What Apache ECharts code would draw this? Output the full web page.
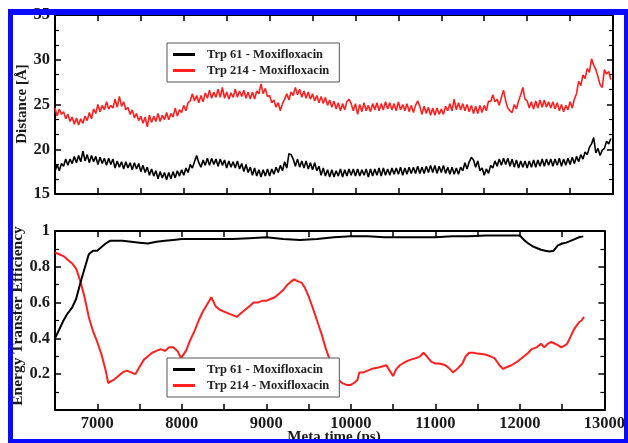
<!DOCTYPE html>
<html>
<head>
<meta charset="utf-8">
<script src="https://cdn.jsdelivr.net/npm/echarts@6/dist/echarts.min.js"></script>
<style>
html,body{margin:0;padding:0;background:#fff;}
#chart{width:628px;height:443px;}
</style>
</head>
<body>
<div id="chart"></div>
<script>
// ---- Data ----
const seriesNames = ['Trp 61 - Moxifloxacin', 'Trp 214 - Moxifloxacin'];
const xTickLabels = [7000, 8000, 9000, 10000, 11000, 12000, 13000];
const distTopYLabels = [15, 20, 25, 30, 35];
const effYLabels = [0.2, 0.4, 0.6, 0.8, 1];

// Distance traces: sampled every 25 ps starting at 6500 ps
const distStart = 6500;
const distStep = 25;
const dist61 = [
17.5,18.3,17.6,18.4, 18.1,18.9,18.2,18.9, 18.4,19.2,18.5,19.3, 18.6,19.8,18.7,19.4,
18.5,19.3,18.6,19.2, 18.3,19.1,18.4,19.0, 18.2,19.0,18.3,18.9, 17.9,18.7,18.0,18.6,
17.8,18.6,17.9,18.5, 17.7,18.5,17.8,18.4, 17.5,18.2,17.4,18.0, 17.1,17.8,17.0,17.6,
16.7,17.5,16.8,17.4, 16.6,17.4,16.7,17.5, 16.8,17.6,17.0,17.7, 17.1,17.9,17.4,18.3,
17.9,18.6,19.3,18.5, 18.0,18.8,18.2,19.0, 18.2,19.0,18.3,18.9, 18.1,18.9,18.2,18.8,
17.9,18.7,18.0,18.6, 17.9,18.7,17.8,18.4, 17.5,18.3,17.4,18.0, 17.1,17.9,17.0,17.7,
16.9,17.7,17.0,17.8, 17.0,17.8,17.2,18.0, 17.4,18.2,17.6,18.6, 17.9,19.5,19.4,18.9,
18.1,18.9,18.0,18.7, 17.9,18.7,17.8,18.5, 17.7,18.5,17.6,18.1, 17.1,17.9,17.0,17.7,
16.9,17.7,16.9,17.6, 17.0,17.8,16.9,17.7, 17.0,17.8,17.1,17.8, 17.0,17.8,17.0,17.7,
17.1,17.8,16.9,17.8, 17.0,17.8,17.1,17.9, 17.0,17.9,17.1,17.8, 17.1,17.9,17.2,17.9,
17.2,18.0,17.1,17.9, 17.2,18.0,17.3,18.0, 17.3,18.1,17.3,18.0, 17.3,18.1,17.4,18.2,
17.4,18.2,17.3,18.1, 17.4,18.2,17.3,18.0, 17.2,18.0,17.2,17.9, 17.2,18.0,17.6,18.5,
17.8,18.6,19.1,18.8, 18.0,18.7,17.6,17.9, 17.1,17.8,17.3,18.2, 17.9,18.7,18.1,18.9,
18.2,19.0,18.3,19.0, 18.1,18.9,18.0,18.8, 17.9,18.7,18.0,18.7, 17.9,18.7,18.0,18.8,
18.0,18.8,18.1,18.9, 18.1,18.9,18.2,18.9, 18.1,18.9,18.2,19.0, 18.1,18.9,18.2,19.0,
18.3,19.1,18.4,19.2, 18.6,19.4,18.9,19.7, 19.4,20.2,20.6,21.3, 19.6,20.1,19.3,19.9,
20.1,20.9,20.6,21.2
];
const dist214 = [
24.6,23.7,24.5,23.9, 24.2,23.4,23.9,23.1, 23.6,22.8,23.5,22.7, 23.4,22.9,23.7,23.2,
24.1,23.4,24.5,24.0, 25.0,24.2,24.9,24.4, 25.3,24.5,24.9,24.6, 25.6,24.7,25.9,24.8,
25.3,24.4,24.7,23.9, 24.4,23.5,24.0,23.2, 23.7,22.9,23.6,22.5, 23.8,23.0,23.7,23.1,
24.0,23.1,23.8,23.3, 24.1,23.3,24.0,23.6, 24.6,23.7,24.4,24.1, 24.9,24.3,25.2,25.4,
26.2,25.4,26.0,25.2, 26.0,25.3,26.3,25.7, 26.6,25.7,26.4,25.8, 26.7,25.8,26.9,25.7,
26.4,25.6,26.3,25.8, 26.7,25.8,26.5,25.9, 26.6,25.7,26.4,25.6, 26.4,25.6,26.5,26.2,
27.3,26.2,26.8,25.9, 26.0,25.2,25.5,24.7, 25.2,24.3,25.1,25.6, 26.2,25.5,26.4,26.0,
26.9,26.1,26.7,25.8, 26.5,25.7,26.4,25.6, 26.2,25.4,26.0,25.2, 25.9,25.1,25.8,24.9,
25.5,24.7,25.4,24.5, 25.2,24.3,25.1,24.4, 25.3,25.6,25.1,24.3, 25.1,23.9,25.0,24.2,
25.2,24.3,24.9,24.2, 25.1,24.4,25.2,24.3, 25.1,24.4,25.3,24.5, 25.2,24.4,25.1,24.3,
25.3,24.4,25.0,24.3, 25.1,24.2,24.9,24.1, 24.9,25.4,24.8,23.9, 24.8,24.0,24.7,23.8,
24.6,23.8,24.6,23.9, 24.5,23.9,24.8,24.3, 25.1,24.3,25.6,24.4, 25.2,24.4,25.1,24.3,
25.0,24.2,24.9,24.0, 24.8,24.0,24.9,24.1, 24.9,24.3,25.4,25.3, 26.1,25.3,25.6,24.9,
25.8,26.6,25.4,24.6, 24.3,24.1,25.0,24.5, 25.4,26.1,26.9,25.6, 25.4,24.6,25.3,24.5,
25.4,24.6,25.5,24.7, 25.5,24.7,25.3,24.6, 25.3,24.5,25.2,24.3, 25.0,24.2,24.9,24.4,
25.3,24.6,25.6,26.2, 27.6,27.1,28.3,27.9, 29.0,28.6,30.1,29.4, 28.9,28.1,27.2,26.9,
28.9,28.4,28.7,27.8
];

// Energy transfer efficiency traces
const eff61Time = [6500,6550,6600,6650,6700,6750,6800,6850,6900,6950,7000,7050,7100,7150,7200,7300,7400,7500,7600,7700,7800,7900,8000,8200,8400,8600,8800,9000,9200,9400,9600,9800,10000,10200,10400,10600,10800,11000,11200,11400,11600,11800,12000,12050,12100,12150,12200,12250,12300,12350,12400,12450,12500,12550,12600,12650,12700,12750];
const eff61 = [0.40,0.45,0.50,0.54,0.57,0.62,0.71,0.79,0.87,0.89,0.89,0.91,0.93,0.945,0.945,0.945,0.94,0.935,0.93,0.94,0.945,0.95,0.955,0.955,0.955,0.955,0.96,0.965,0.955,0.95,0.955,0.965,0.97,0.97,0.965,0.965,0.965,0.965,0.97,0.97,0.975,0.975,0.975,0.95,0.93,0.915,0.905,0.895,0.89,0.885,0.89,0.92,0.93,0.935,0.945,0.955,0.965,0.97];
const eff214Time = [6500,6550,6600,6650,6700,6750,6800,6850,6900,6950,7000,7050,7100,7130,7160,7200,7250,7300,7350,7400,7450,7500,7550,7600,7650,7700,7750,7800,7850,7900,7950,7990,8050,8100,8150,8200,8250,8300,8350,8400,8450,8500,8550,8600,8650,8700,8750,8800,8850,8900,8950,9000,9050,9100,9150,9200,9250,9300,9330,9370,9420,9460,9505,9550,9600,9650,9700,9750,9800,9850,9900,9950,10000,10050,10080,10100,10150,10200,10250,10300,10350,10420,10460,10500,10540,10580,10650,10700,10770,10820,10860,10900,10950,11000,11050,11120,11170,11210,11260,11320,11360,11400,11450,11500,11590,11650,11700,11760,11800,11850,11900,11970,12050,12100,12140,12200,12250,12290,12330,12370,12420,12460,12490,12530,12560,12600,12640,12670,12700,12730,12760];
const eff214 = [0.88,0.87,0.86,0.84,0.82,0.79,0.72,0.63,0.52,0.44,0.38,0.31,0.22,0.15,0.16,0.17,0.19,0.21,0.22,0.21,0.20,0.24,0.28,0.30,0.32,0.33,0.34,0.33,0.35,0.35,0.33,0.29,0.33,0.39,0.44,0.50,0.55,0.59,0.63,0.58,0.56,0.55,0.54,0.53,0.52,0.54,0.56,0.58,0.60,0.60,0.61,0.61,0.62,0.63,0.65,0.67,0.70,0.72,0.73,0.72,0.71,0.68,0.63,0.57,0.50,0.43,0.35,0.28,0.22,0.17,0.15,0.14,0.14,0.155,0.17,0.21,0.21,0.22,0.23,0.235,0.24,0.25,0.22,0.19,0.23,0.25,0.27,0.28,0.29,0.30,0.32,0.30,0.27,0.26,0.26,0.25,0.23,0.21,0.23,0.26,0.30,0.32,0.32,0.315,0.31,0.30,0.29,0.25,0.23,0.24,0.25,0.27,0.30,0.32,0.34,0.35,0.37,0.35,0.37,0.38,0.37,0.36,0.35,0.36,0.37,0.41,0.45,0.47,0.49,0.50,0.52];

// ---- Build series data ----
const pairsFromStep = (arr) => arr.map((v, i) => [distStart + i * distStep, v]);
const zip = (xs, ys) => xs.map((x, i) => [x, ys[i]]);

const SERIF = 'Liberation Serif';
const BLACK = '#000000';
const RED = '#ff1f1f';
const labelStyle = {fontFamily: SERIF, fontWeight: 'bold', fontSize: 16.5, color: '#1a1a1a'};
const lineStyle = {color: '#000', width: 2};

function xAx(grid, pos, showLabel) {
  return {
    type: 'value', gridIndex: grid, position: pos, min: 6500, max: 13000, interval: 500,
    axisLine: {onZero: false, lineStyle: lineStyle},
    axisTick: {inside: true, length: 6, lineStyle: {color: '#000', width: 1.5}},
    axisLabel: showLabel ? Object.assign({margin: 5, formatter: v => xTickLabels.includes(v) ? String(v) : ''}, labelStyle) : {show: false},
    splitLine: {show: false}
  };
}
function yAx(grid, pos, min, max, interval, minorSplit, labels, showLabel) {
  return {
    type: 'value', gridIndex: grid, position: pos, min: min, max: max, interval: interval,
    axisLine: {onZero: false, lineStyle: lineStyle},
    axisTick: {inside: true, length: 6, lineStyle: {color: '#000', width: 1.5}},
    minorTick: {show: true, splitNumber: minorSplit, length: 4, lineStyle: {color: '#000', width: 1.2}},
    axisLabel: showLabel ? Object.assign({margin: 5, formatter: v => {
      const m = labels.find(l => Math.abs(l - v) < 1e-9);
      return m === undefined ? '' : String(m);
    }}, labelStyle) : {show: false},
    splitLine: {show: false}, minorSplitLine: {show: false}
  };
}

const legendCommon = {
  orient: 'vertical', data: seriesNames, icon: 'rect', itemWidth: 22, itemHeight: 3,
  itemGap: 3, backgroundColor: '#fff', borderColor: '#555', borderWidth: 1,
  padding: [5, 10, 5, 6], selectedMode: false,
  textStyle: {fontFamily: SERIF, fontWeight: 'bold', fontSize: 12.5, color: '#222', padding: [0, 0, 0, 7]}
};

const blue = '#0a0aff';
const option = {
  animation: false,
  backgroundColor: '#fff',
  grid: [
    {left: 55, top: 15, width: 558, height: 179},
    {left: 55, top: 231, width: 558, height: 179}
  ],
  xAxis: [xAx(0, 'bottom', false), xAx(0, 'top', false), xAx(1, 'bottom', true), xAx(1, 'top', false)],
  yAxis: [
    yAx(0, 'left', 15, 35, 5, 3, distTopYLabels, true),
    yAx(0, 'right', 15, 35, 5, 3, distTopYLabels, false),
    yAx(1, 'left', 0, 1, 0.2, 2, effYLabels, true),
    yAx(1, 'right', 0, 1, 0.2, 2, effYLabels, false)
  ],
  legend: [
    Object.assign({left: 167, top: 43}, legendCommon),
    Object.assign({left: 167, top: 358}, legendCommon)
  ],
  series: [
    {name: seriesNames[1], type: 'line', xAxisIndex: 0, yAxisIndex: 0, data: pairsFromStep(dist214), showSymbol: false, lineStyle: {color: RED, width: 1.6}, itemStyle: {color: RED}},
    {name: seriesNames[0], type: 'line', xAxisIndex: 0, yAxisIndex: 0, data: pairsFromStep(dist61), showSymbol: false, lineStyle: {color: BLACK, width: 1.6}, itemStyle: {color: BLACK}},
    {name: seriesNames[1], type: 'line', xAxisIndex: 2, yAxisIndex: 2, data: zip(eff214Time, eff214), showSymbol: false, lineStyle: {color: RED, width: 2}, itemStyle: {color: RED}},
    {name: seriesNames[0], type: 'line', xAxisIndex: 2, yAxisIndex: 2, data: zip(eff61Time, eff61), showSymbol: false, lineStyle: {color: BLACK, width: 2}, itemStyle: {color: BLACK}}
  ],
  graphic: [
    {type: 'text', x: 22, y: 104, rotation: Math.PI / 2, z: 50,
     style: {text: 'Distance [Å]', fontFamily: SERIF, fontWeight: 'bold', fontSize: 15, fill: '#1a1a1a', align: 'center', verticalAlign: 'middle'}},
    {type: 'text', x: 18, y: 316, rotation: Math.PI / 2, z: 50,
     style: {text: 'Energy Transfer Efficiency', fontFamily: SERIF, fontWeight: 'bold', fontSize: 15.5, fill: '#1a1a1a', align: 'center', verticalAlign: 'middle'}},
    {type: 'text', x: 334, y: 437, z: 50,
     style: {text: 'Meta time (ps)', fontFamily: SERIF, fontWeight: 'bold', fontSize: 15, fill: '#1a1a1a', align: 'center', verticalAlign: 'middle'}},
    {type: 'rect', z: 100, shape: {x: 8, y: 9, width: 5, height: 434}, style: {fill: blue}},
    {type: 'rect', z: 100, shape: {x: 8, y: 9, width: 620, height: 6}, style: {fill: blue}},
    {type: 'rect', z: 100, shape: {x: 624, y: 9, width: 4, height: 434}, style: {fill: blue}},
    {type: 'rect', z: 100, shape: {x: 8, y: 439, width: 620, height: 4}, style: {fill: blue}}
  ]
};

const chart = echarts.init(document.getElementById('chart'), null, {renderer: 'canvas'});
chart.setOption(option);
</script>
</body>
</html>
